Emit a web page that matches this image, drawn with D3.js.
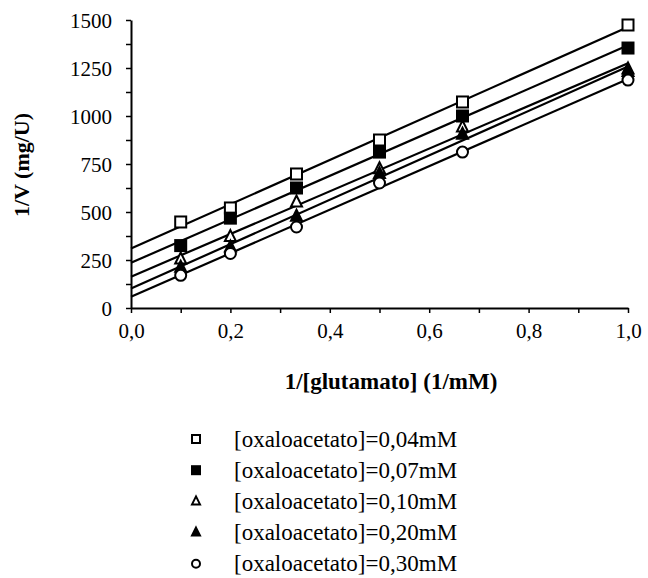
<!DOCTYPE html>
<html>
<head>
<meta charset="utf-8">
<script src="https://cdn.jsdelivr.net/npm/d3@7"></script>
<style>
body{margin:0;background:#fff;}
svg text{font-family:"Liberation Serif","DejaVu Serif",serif;fill:#000;}
</style>
</head>
<body>
<div id="chart"></div>
<script>
// x values, 1/[glutamato]
var xVals=[0.1,0.2,0.333,0.5,0.667,1.0];

// 1/V per series
var s004=[448,521,698,875,1073,1474];
var s007=[325,468,625,812,1000,1354];
var s010=[255,372,552,725,943,1245];
var s020=[212,318,478,700,905,1232];
var s030=[170,284,422,651,812,1187];

var seriesNames=["[oxaloacetato]=0,04mM","[oxaloacetato]=0,07mM","[oxaloacetato]=0,10mM","[oxaloacetato]=0,20mM","[oxaloacetato]=0,30mM"];
var seriesVals=[s004,s007,s010,s020,s030];
var markers=["square-open","square","triangle-open","triangle","circle-open"];

var W=648,H=578;
var svg=d3.select("#chart").append("svg").attr("width",W).attr("height",H);

var x=d3.scaleLinear().domain([0,1]).range([131,628]);
var y=d3.scaleLinear().domain([0,1500]).range([308,20]);

//axes
var fmt=function(d){return d3.format(".1f")(d).replace(".",",");};
var xAx=svg.append("g").attr("transform","translate(0,"+y(0)+")")
  .call(d3.axisBottom(x).tickValues(d3.range(0,1.01,0.1)).tickSize(5).tickSizeOuter(0).tickFormat(function(d){
     var r=Math.round(d*10);return r%2===0?fmt(d):"";}));
var yAx=svg.append("g").attr("transform","translate("+x(0)+",0)")
  .call(d3.axisLeft(y).tickValues(d3.range(0,1501,125)).tickSize(5).tickSizeOuter(0).tickFormat(function(d){
     return d%250===0?d:"";}));

[xAx,yAx].forEach(function(g){
  g.attr("font-family","Liberation Serif").attr("font-size",21);
  g.select(".domain").attr("stroke","#000").attr("stroke-width",2);
  g.selectAll(".tick line").attr("stroke","#000").attr("stroke-width",1.5);
  g.selectAll(".tick text").attr("font-size",21).style("font-family","Liberation Serif");
});
xAx.selectAll(".tick text").attr("y",23).attr("dy","0.35em");
yAx.selectAll(".tick text").attr("x",-19).attr("dy","0.35em");

svg.append("text").attr("x",391).attr("y",381).attr("dy","0.35em").attr("text-anchor","middle")
  .attr("font-size",23).attr("font-weight","bold").text("1/[glutamato] (1/mM)");
svg.append("text").attr("transform","translate(21,165) rotate(-90)").attr("dy","0.35em").attr("text-anchor","middle")
  .attr("font-size",22).attr("font-weight","bold").text("1/V (mg/U)");

// least-squares line for each series
function fit(ys){
  var mx=d3.mean(xVals),my=d3.mean(ys),sxy=0,sxx=0;
  xVals.forEach(function(v,i){sxy+=(v-mx)*(ys[i]-my);sxx+=(v-mx)*(v-mx);});
  var b=sxy/sxx;
  return {a:my-b*mx,b:b};
}

function drawMarker(g,type,cx,cy,s){
  if(type.indexOf("square")===0){
    g.append("rect").attr("x",cx-s).attr("y",cy-s).attr("width",2*s).attr("height",2*s)
      .attr("fill",type==="square"?"#000":"#fff").attr("stroke","#000").attr("stroke-width",2);
  } else if(type.indexOf("triangle")===0){
    g.append("path").attr("d","M"+cx+","+(cy-s-1)+"L"+(cx+s)+","+(cy+s-1)+"L"+(cx-s)+","+(cy+s-1)+"Z")
      .attr("fill",type==="triangle"?"#000":"#fff").attr("stroke","#000").attr("stroke-width",2);
  } else {
    g.append("circle").attr("cx",cx).attr("cy",cy).attr("r",s)
      .attr("fill","#fff").attr("stroke","#000").attr("stroke-width",2);
  }
}

var line=d3.line().x(function(d){return x(d[0]);}).y(function(d){return y(d[1]);});
var plot=svg.append("g");

seriesVals.forEach(function(ys,k){
  var f=fit(ys);
  plot.append("path").datum([[0,f.a],[1,f.a+f.b]]).attr("d",line)
    .attr("fill","none").attr("stroke","#000").attr("stroke-width",2.2);
});
seriesVals.forEach(function(ys,k){
  ys.forEach(function(v,i){drawMarker(plot,markers[k],x(xVals[i]),y(v),5.5);});
});

//legend
var leg=svg.append("g");
seriesNames.forEach(function(n,k){
  var ly=439+k*31.2;
  drawMarker(leg,markers[k],196,ly,4);
  leg.append("text").attr("x",234).attr("y",ly).attr("dy","0.33em").attr("font-size",23).text(n);
});
</script>
</body>
</html>
